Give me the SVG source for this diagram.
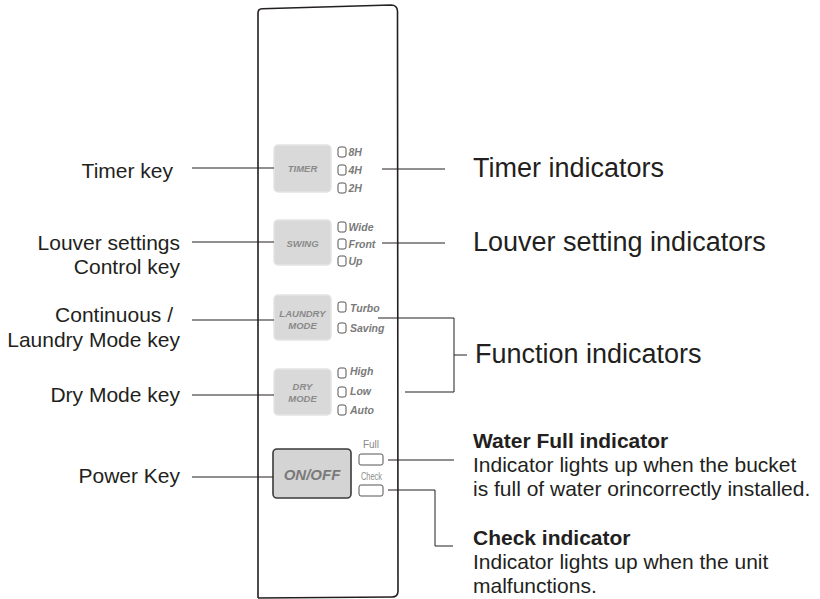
<svg xmlns="http://www.w3.org/2000/svg" width="820" height="599" viewBox="0 0 820 599">
<style>
.lbl{font-family:"Liberation Sans",Arial,sans-serif;font-size:21px;fill:#231f20}
.big{font-family:"Liberation Sans",Arial,sans-serif;font-size:27px;fill:#231f20}
.bold{font-weight:bold}
.key{fill:#d9d9d9;stroke:#e4e4e4;stroke-width:1.5}
.ktxt{font-family:"Liberation Sans",Arial,sans-serif;font-size:9.5px;font-weight:bold;font-style:italic;fill:#8a8a8a;text-anchor:middle}
.ind{fill:#fff;stroke:#555;stroke-width:1}
.itxt{font-family:"Liberation Sans",Arial,sans-serif;font-size:10.5px;font-weight:bold;font-style:italic;fill:#7a7a7a}
.small{font-family:"Liberation Sans",Arial,sans-serif;font-size:10px;fill:#8a8a8a;text-anchor:middle}
.ln{stroke:#231f20;stroke-width:1;fill:none}
</style>
<rect width="820" height="599" fill="#fff"/>
<g id="panel">
<path d="M258,598 L258,13 Q258,9 262,8.8 L391,5 Q397,5 397.5,11 L398,591 Q398,597 392,597" fill="none" stroke="#231f20" stroke-width="1.6"/>
<path d="M258,598 L392,597" fill="none" stroke="#231f20" stroke-width="1.6"/>
</g>
<g id="timer-key">
<rect class="key" x="274" y="145" width="57" height="47" rx="4"/>
<text class="ktxt" x="302.5" y="172">TIMER</text>
</g>
<g id="swing-key">
<rect class="key" x="274" y="220" width="57" height="45" rx="4"/>
<text class="ktxt" x="302.5" y="247">SWING</text>
</g>
<g id="laundry-key">
<rect class="key" x="274" y="295" width="57" height="45" rx="4"/>
<text class="ktxt" x="302.5" y="317">LAUNDRY</text>
<text class="ktxt" x="302.5" y="329">MODE</text>
</g>
<g id="dry-key">
<rect class="key" x="274" y="369" width="57" height="46" rx="4"/>
<text class="ktxt" x="302.5" y="390">DRY</text>
<text class="ktxt" x="302.5" y="402">MODE</text>
</g>
<g id="power-key">
<rect x="273" y="449" width="78" height="49" rx="4" fill="#d4d4d4" stroke="#3a3a3a" stroke-width="1.6"/>
<text x="312" y="480" text-anchor="middle" font-family="Liberation Sans, Arial, sans-serif" font-size="15" font-weight="bold" font-style="italic" fill="#7a7a7a">ON/OFF</text>
</g>
<g id="timer-indicators">
<rect class="ind" x="338" y="147" width="8" height="10" rx="2"/><text class="itxt" x="348.5" y="156">8H</text>
<rect class="ind" x="338" y="165" width="8" height="10" rx="2"/><text class="itxt" x="348.5" y="174">4H</text>
<rect class="ind" x="338" y="183" width="8" height="10" rx="2"/><text class="itxt" x="348.5" y="192">2H</text>
</g>
<g id="louver-indicators">
<rect class="ind" x="338" y="222" width="8" height="10" rx="2"/><text class="itxt" x="348.5" y="231">Wide</text>
<rect class="ind" x="338" y="239" width="8" height="10" rx="2"/><text class="itxt" x="348.5" y="248">Front</text>
<rect class="ind" x="338" y="256" width="8" height="10" rx="2"/><text class="itxt" x="348.5" y="265">Up</text>
</g>
<g id="function-indicators">
<rect class="ind" x="338" y="302" width="8" height="10" rx="2"/><text class="itxt" x="350" y="312">Turbo</text>
<rect class="ind" x="338" y="323" width="8" height="10" rx="2"/><text class="itxt" x="350" y="332">Saving</text>
<rect class="ind" x="338" y="368" width="8" height="10" rx="2"/><text class="itxt" x="350" y="375">High</text>
<rect class="ind" x="338" y="387" width="8" height="10" rx="2"/><text class="itxt" x="350" y="395">Low</text>
<rect class="ind" x="338" y="405" width="8" height="10" rx="2"/><text class="itxt" x="350" y="414">Auto</text>
</g>
<g id="full-indicator">
<text class="small" x="371" y="448" font-size="11">Full</text>
<rect class="ind" x="359" y="454" width="24" height="11" rx="2"/>
</g>
<g id="check-indicator">
<text class="small" x="371.5" y="480" textLength="21" lengthAdjust="spacingAndGlyphs">Check</text>
<rect class="ind" x="359" y="485" width="24" height="11" rx="2"/>
</g>
<g id="connectors">
<line class="ln" x1="192" y1="168" x2="274" y2="168"/>
<line class="ln" x1="192" y1="242" x2="274" y2="242"/>
<line class="ln" x1="192" y1="320" x2="274" y2="320"/>
<line class="ln" x1="192" y1="395" x2="274" y2="395"/>
<line class="ln" x1="192" y1="477" x2="273" y2="477"/>
<line class="ln" x1="382" y1="169" x2="445" y2="169"/>
<line class="ln" x1="382" y1="243" x2="445" y2="243"/>
<polyline class="ln" points="378,318 454,318 454,392 405,392"/>
<line class="ln" x1="454" y1="355" x2="467" y2="355"/>
<line class="ln" x1="388" y1="460" x2="454" y2="460"/>
<polyline class="ln" points="388,490 435,490 435,546 453,546"/>
</g>
<g id="labels">
<text class="lbl" x="173" y="178" text-anchor="end">Timer key</text>
<text class="lbl" x="180" y="250" text-anchor="end">Louver settings</text>
<text class="lbl" x="180" y="274" text-anchor="end">Control key</text>
<text class="lbl" x="173" y="322" text-anchor="end">Continuous /</text>
<text class="lbl" x="180" y="347" text-anchor="end">Laundry Mode key</text>
<text class="lbl" x="180" y="402" text-anchor="end">Dry Mode key</text>
<text class="lbl" x="180" y="483" text-anchor="end">Power Key</text>
<text class="big" x="473" y="177">Timer indicators</text>
<text class="big" x="473" y="251">Louver setting indicators</text>
<text class="big" x="475" y="363">Function indicators</text>
<text class="lbl bold" x="473" y="448">Water Full indicator</text>
<text class="lbl" x="473" y="472">Indicator lights up when the bucket</text>
<text class="lbl" x="473" y="496">is full of water orincorrectly installed.</text>
<text class="lbl bold" x="473" y="545">Check indicator</text>
<text class="lbl" x="473" y="569">Indicator lights up when the unit</text>
<text class="lbl" x="473" y="593">malfunctions.</text>
</g>
</svg>
